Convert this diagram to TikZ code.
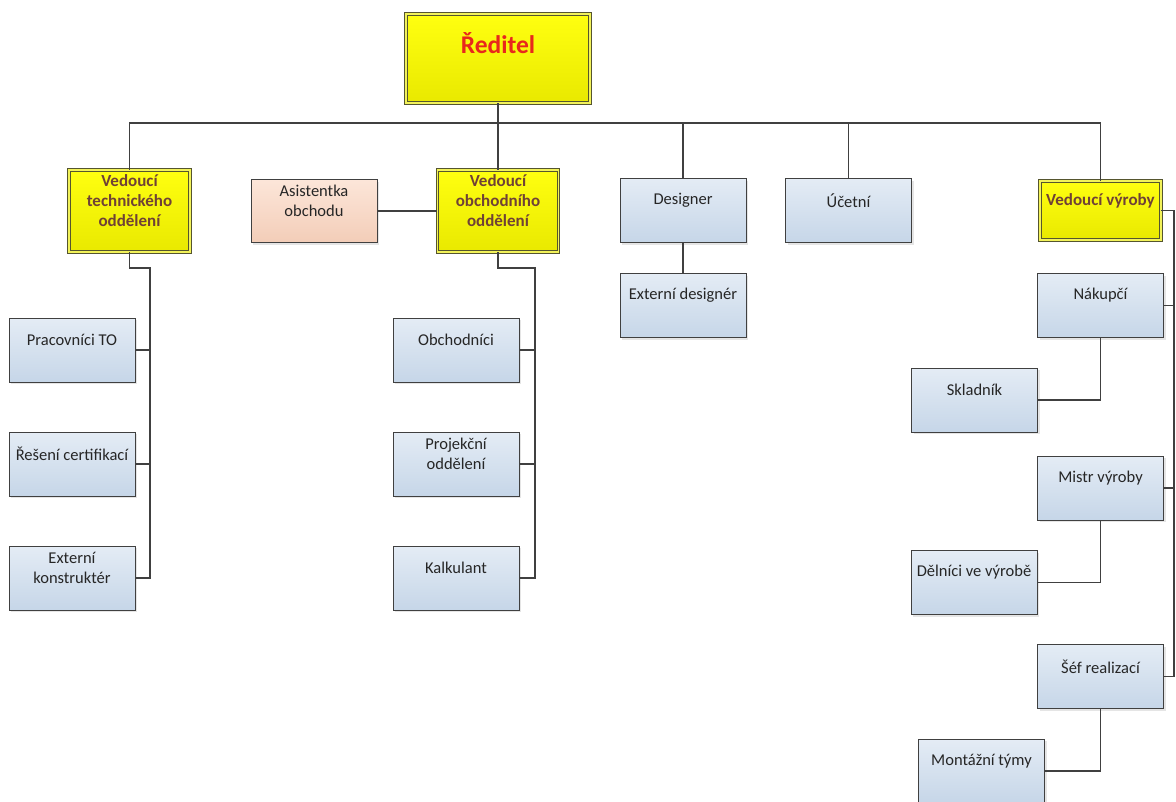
\documentclass[tikz,border=0pt]{standalone}
\usepackage{fontspec}
\setmainfont{Carlito}
\usetikzlibrary{shadows}

\definecolor{linegray}{HTML}{404040}
\definecolor{stafftop}{HTML}{E4ECF5}
\definecolor{staffbot}{HTML}{C6D6E8}
\definecolor{assttop}{HTML}{FCE6D9}
\definecolor{asstbot}{HTML}{F3CDB8}
\definecolor{leadtop}{HTML}{FFFF10}
\definecolor{leadbot}{HTML}{E9E900}
\definecolor{leadline}{HTML}{55552E}
\definecolor{leadgap}{HTML}{F2F25A}
\definecolor{leadtext}{HTML}{6F4136}
\definecolor{bosstext}{HTML}{E8281C}
\definecolor{textgray}{HTML}{262626}

\begin{document}
\begin{tikzpicture}[x=1pt, y=-1pt,
    conn/.style={draw=linegray, line width=1.2pt},
    box/.style={draw=linegray, line width=1pt, drop shadow={shadow xshift=2pt, shadow yshift=-2pt, opacity=0.2}},
    staff/.style={box, top color=stafftop, bottom color=staffbot, minimum width=126pt, minimum height=64pt},
    asst/.style={box, top color=assttop, bottom color=asstbot, minimum width=126pt, minimum height=63pt},
    lead/.style={draw=leadline, double=leadgap, double distance=1.8pt, line width=0.9pt,
        top color=leadtop, bottom color=leadbot, minimum width=121pt, minimum height=82pt},
    txt/.style={yshift=10pt, align=center, text=textgray, font=\fontsize{16.5}{20}\selectfont},
    leadtxt/.style={yshift=10pt, align=center, text=leadtext, font=\bfseries\fontsize{17}{20}\selectfont},
    bosstxt/.style={yshift=15pt, text=bosstext, font=\bfseries\fontsize{25.5}{30}\selectfont}]

    \useasboundingbox (0,0) rectangle (1176,801);
    \fill[white] (0,0) rectangle (1176,801);

    % top
    \node[lead, minimum width=184pt, minimum height=89pt, label={[bosstxt]center:Ředitel}] (red) at (498,58.5) {};
    \coordinate (bus) at (498,123);

    % first row
    \node[lead, label={[leadtxt]center:Vedoucí\\technického\\oddělení}] (vt) at (129.5,211) {};
    \node[asst, label={[txt]center:Asistentka\\obchodu}] (asist) at (314,211) {};
    \node[lead, label={[leadtxt]center:Vedoucí\\obchodního\\oddělení}] (vo) at (498,211) {};
    \node[staff, label={[txt]center:Designer}] (des) at (683,210.5) {};
    \node[staff, label={[txt]center:Účetní}] (ucet) at (848.5,210.5) {};
    \node[lead, minimum height=59pt, label={[leadtxt]center:Vedoucí výroby}] (vv) at (1100.5,210.5) {};

    \node[staff, label={[txt]center:Externí designér}] (extdes) at (683,305.5) {};

    % technical department
    \node[staff, label={[txt]center:Pracovníci TO}] (prac) at (72,350) {};
    \node[staff, label={[txt]center:Řešení certifikací}] (cert) at (72,464) {};
    \node[staff, label={[txt]center:Externí\\konstruktér}] (konst) at (72,578) {};
    \coordinate (ltr) at (150,268);

    % sales department
    \node[staff, label={[txt]center:Obchodníci}] (obch) at (456,350) {};
    \node[staff, label={[txt]center:Projekční\\oddělení}] (proj) at (456,464) {};
    \node[staff, label={[txt]center:Kalkulant}] (kalk) at (456,578) {};
    \coordinate (otr) at (535,268);

    % production
    \node[staff, label={[txt]center:Nákupčí}] (nak) at (1100.5,305.5) {};
    \node[staff, label={[txt]center:Skladník}] (sklad) at (974.5,400) {};
    \node[staff, label={[txt]center:Mistr výroby}] (mistr) at (1100.5,488) {};
    \node[staff, label={[txt]center:Dělníci ve výrobě}] (delnici) at (974,582.5) {};
    \node[staff, label={[txt]center:Šéf realizací}] (sef) at (1100.5,676.5) {};
    \node[staff, label={[txt]center:Montážní týmy}] (mont) at (981.5,771) {};
    \coordinate (vtr) at (1174,676.5);

    % connectors
    \draw[conn] (red) -- (vo);
    \draw[conn] (vt) |- (bus) -| (vv);
    \draw[conn] (bus) -| (des);
    \draw[conn] (bus) -| (ucet);
    \draw[conn] (asist) -- (vo);
    \draw[conn] (des) -- (extdes);

    \draw[conn] (vt) |- (ltr) |- (konst);
    \draw[conn] (ltr) |- (prac);
    \draw[conn] (ltr) |- (cert);

    \draw[conn] (vo) |- (otr) |- (kalk);
    \draw[conn] (otr) |- (obch);
    \draw[conn] (otr) |- (proj);

    \draw[conn] (vv) -| (vtr) -- (sef);
    \draw[conn] (nak) -| (vtr);
    \draw[conn] (mistr) -| (vtr);
    \draw[conn] (nak) |- (sklad);
    \draw[conn] (mistr) |- (delnici);
    \draw[conn] (sef) |- (mont);
\end{tikzpicture}
\end{document}
